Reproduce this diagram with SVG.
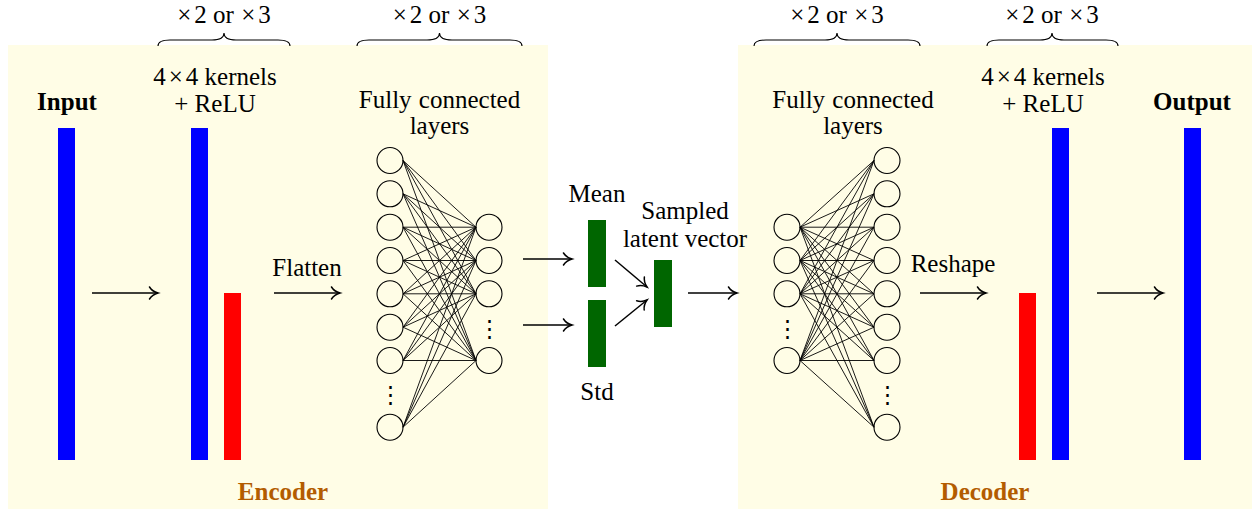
<svg xmlns="http://www.w3.org/2000/svg" width="1252" height="509" viewBox="0 0 1252 509">
<defs>
<marker id="ah" markerUnits="userSpaceOnUse" markerWidth="20" markerHeight="20" refX="0" refY="0" viewBox="-10 -10 20 20" orient="auto" overflow="visible">
<path d="M-8.5,-6 C-6.5,-2.8 -2.5,-0.7 0,0 C-2.5,0.7 -6.5,2.8 -8.5,6" fill="none" stroke="#000" stroke-width="1.5" stroke-linecap="round"/>
</marker>
</defs>
<style>
.t{font-family:"Liberation Serif","Times New Roman",serif;font-size:25px;fill:#000;text-anchor:middle}
.b{font-weight:bold}
.sec{font-weight:bold;fill:#B35C00}
.box{fill:#FFFDE6}
.blue{fill:#0000FF}
.red{fill:#FF0000}
.grn{fill:#006600}
.arr{stroke:#000;stroke-width:1.5;fill:none;marker-end:url(#ah)}
.nn{stroke:#000;stroke-width:0.9;fill:none}
.nd{stroke:#000;stroke-width:1.1;fill:none}
.br{stroke:#000;stroke-width:1.1;fill:none}
.vd{font-family:"DejaVu Serif",serif;font-size:23px;text-anchor:middle}
</style>
<rect width="1252" height="509" fill="#fff"/>
<g id="encoder">
<rect class="box" x="8" y="45" width="540" height="464"/>
<text class="t sec" x="283" y="500">Encoder</text>
</g>
<g id="decoder">
<rect class="box" x="738" y="45" width="514" height="464"/>
<text class="t sec" x="985" y="500">Decoder</text>
</g>
<g id="braces">
<path class="br" d="M158,46 C158,42 161,40 170,40 L212,40 C219,40 224,38 224,33 C224,38 229,40 236,40 L278,40 C287,40 290,42 290,46"/>
<text class="t" x="224" y="23">×<tspan dx="3">2</tspan> or <tspan dx="1">×</tspan><tspan dx="3">3</tspan></text>
<path class="br" d="M357,46 C357,42 360,40 369,40 L427,40 C434,40 439.5,38 439.5,33 C439.5,38 445,40 452,40 L510,40 C519,40 522,42 522,46"/>
<text class="t" x="439.5" y="23">×<tspan dx="3">2</tspan> or <tspan dx="1">×</tspan><tspan dx="3">3</tspan></text>
<path class="br" d="M754,46 C754,42 757,40 766,40 L825,40 C832,40 837,38 837,33 C837,38 842,40 849,40 L908,40 C917,40 920,42 920,46"/>
<text class="t" x="837" y="23">×<tspan dx="3">2</tspan> or <tspan dx="1">×</tspan><tspan dx="3">3</tspan></text>
<path class="br" d="M987,46 C987,42 990,40 999,40 L1040,40 C1047,40 1052,38 1052,33 C1052,38 1057,40 1064,40 L1106,40 C1115,40 1118,42 1118,46"/>
<text class="t" x="1052" y="23">×<tspan dx="3">2</tspan> or <tspan dx="1">×</tspan><tspan dx="3">3</tspan></text>
</g>
<g id="input">
<text class="t b" x="67" y="110">Input</text>
<rect class="blue" x="58" y="128" width="17" height="332"/>
</g>
<g id="conv-enc">
<text class="t" x="215" y="85">4<tspan dx="3">×</tspan><tspan dx="3">4</tspan> kernels</text>
<text class="t" x="215" y="112">+ ReLU</text>
<rect class="blue" x="191" y="128" width="17" height="332"/>
<rect class="red" x="224" y="293" width="17" height="167"/>
</g>
<g id="fc-enc">
<text class="t" x="439.5" y="108" word-spacing="1">Fully connected</text>
<text class="t" x="439.5" y="134">layers</text>
<circle class="nd" cx="390" cy="160.5" r="13"/>
<circle class="nd" cx="390" cy="193.8" r="13"/>
<circle class="nd" cx="390" cy="227.2" r="13"/>
<circle class="nd" cx="390" cy="260.5" r="13"/>
<circle class="nd" cx="390" cy="293.8" r="13"/>
<circle class="nd" cx="390" cy="327.2" r="13"/>
<circle class="nd" cx="390" cy="360.5" r="13"/>
<circle class="nd" cx="390" cy="427.2" r="13"/>
<text class="vd" x="390" y="402">⋮</text>
<circle class="nd" cx="489" cy="227.2" r="13"/>
<circle class="nd" cx="489" cy="260.5" r="13"/>
<circle class="nd" cx="489" cy="293.8" r="13"/>
<circle class="nd" cx="489" cy="360.5" r="13"/>
<text class="vd" x="489" y="335.5">⋮</text>
</g>
<g id="mean">
<text class="t" x="597" y="202">Mean</text>
<rect class="grn" x="588" y="220" width="18" height="67"/>
</g>
<g id="std">
<text class="t" x="597" y="400">Std</text>
<rect class="grn" x="588" y="300" width="18" height="67"/>
</g>
<g id="latent">
<text class="t" x="685" y="219">Sampled</text>
<text class="t" x="685" y="247">latent vector</text>
<rect class="grn" x="654" y="260" width="18" height="67"/>
</g>
<g id="fc-dec">
<text class="t" x="853" y="108" word-spacing="1">Fully connected</text>
<text class="t" x="853" y="134">layers</text>
<circle class="nd" cx="787" cy="227.2" r="13"/>
<circle class="nd" cx="787" cy="260.5" r="13"/>
<circle class="nd" cx="787" cy="293.8" r="13"/>
<circle class="nd" cx="787" cy="360.5" r="13"/>
<text class="vd" x="787" y="335.5">⋮</text>
<circle class="nd" cx="887" cy="160.5" r="13"/>
<circle class="nd" cx="887" cy="193.8" r="13"/>
<circle class="nd" cx="887" cy="227.2" r="13"/>
<circle class="nd" cx="887" cy="260.5" r="13"/>
<circle class="nd" cx="887" cy="293.8" r="13"/>
<circle class="nd" cx="887" cy="327.2" r="13"/>
<circle class="nd" cx="887" cy="360.5" r="13"/>
<circle class="nd" cx="887" cy="427.2" r="13"/>
<text class="vd" x="887" y="402">⋮</text>
</g>
<g id="conv-dec">
<text class="t" x="1043" y="85">4<tspan dx="3">×</tspan><tspan dx="3">4</tspan> kernels</text>
<text class="t" x="1043" y="112">+ ReLU</text>
<rect class="red" x="1019" y="293" width="17" height="167"/>
<rect class="blue" x="1052" y="128" width="17" height="332"/>
</g>
<g id="output">
<text class="t b" x="1192" y="110">Output</text>
<rect class="blue" x="1184" y="128" width="17" height="332"/>
</g>
<g id="connectors">
<path class="nn" d="M403,160.5L476,227.2M403,160.5L476,260.5M403,160.5L476,293.8M403,160.5L476,360.5M403,193.8L476,227.2M403,193.8L476,260.5M403,193.8L476,293.8M403,193.8L476,360.5M403,227.2L476,227.2M403,227.2L476,260.5M403,227.2L476,293.8M403,227.2L476,360.5M403,260.5L476,227.2M403,260.5L476,260.5M403,260.5L476,293.8M403,260.5L476,360.5M403,293.8L476,227.2M403,293.8L476,260.5M403,293.8L476,293.8M403,293.8L476,360.5M403,327.2L476,227.2M403,327.2L476,260.5M403,327.2L476,293.8M403,327.2L476,360.5M403,360.5L476,227.2M403,360.5L476,260.5M403,360.5L476,293.8M403,360.5L476,360.5M403,427.2L476,227.2M403,427.2L476,260.5M403,427.2L476,293.8M403,427.2L476,360.5"/>
<path class="nn" d="M874,160.5L800,227.2M874,160.5L800,260.5M874,160.5L800,293.8M874,160.5L800,360.5M874,193.8L800,227.2M874,193.8L800,260.5M874,193.8L800,293.8M874,193.8L800,360.5M874,227.2L800,227.2M874,227.2L800,260.5M874,227.2L800,293.8M874,227.2L800,360.5M874,260.5L800,227.2M874,260.5L800,260.5M874,260.5L800,293.8M874,260.5L800,360.5M874,293.8L800,227.2M874,293.8L800,260.5M874,293.8L800,293.8M874,293.8L800,360.5M874,327.2L800,227.2M874,327.2L800,260.5M874,327.2L800,293.8M874,327.2L800,360.5M874,360.5L800,227.2M874,360.5L800,260.5M874,360.5L800,293.8M874,360.5L800,360.5M874,427.2L800,227.2M874,427.2L800,260.5M874,427.2L800,293.8M874,427.2L800,360.5"/>
<path class="arr" d="M92,293H158"/>
<path class="arr" d="M274,293H340"/>
<text class="t" x="307" y="276">Flatten</text>
<path class="arr" d="M523,259H572"/>
<path class="arr" d="M523,325H572"/>
<path class="arr" d="M615,260L647,287"/>
<path class="arr" d="M615,326L647,300"/>
<path class="arr" d="M688,293H737"/>
<path class="arr" d="M920,293H986"/>
<text class="t" x="953" y="272">Reshape</text>
<path class="arr" d="M1097,293H1163"/>
</g>
</svg>
